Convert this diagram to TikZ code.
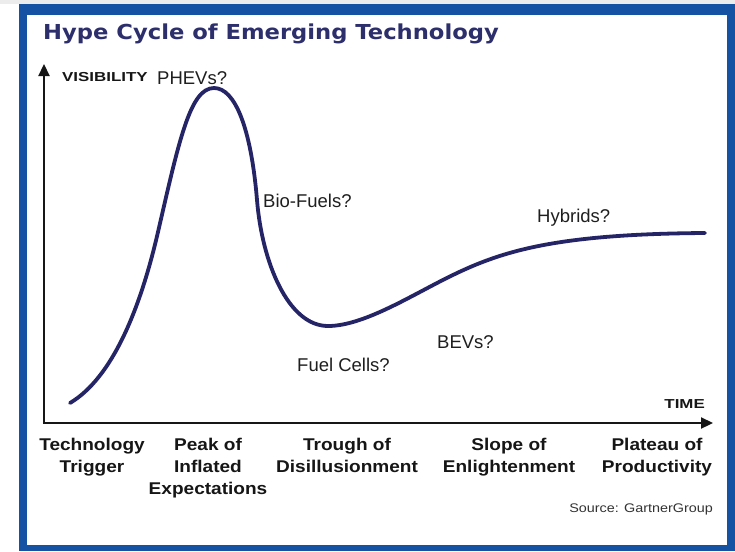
\documentclass[tikz,border=0pt]{standalone}
\usepackage{fontspec}
\setmainfont{Liberation Sans}
\newfontfamily\titlefont{DejaVu Sans}
\usetikzlibrary{arrows.meta}
\definecolor{frameblue}{RGB}{22,82,164}
\definecolor{curvenavy}{RGB}{36,36,102}
\definecolor{titlenavy}{RGB}{45,46,108}
\definecolor{axisblack}{RGB}{22,22,22}
\definecolor{topgray}{RGB}{236,236,236}
\tikzset{
  lbl/.style={inner sep=0pt, anchor=base west, font=\fontsize{18.5}{22}\selectfont, text=black!88},
  phase/.style={inner sep=0pt, anchor=base, font=\fontsize{17}{22}\selectfont\bfseries, text=axisblack},
  axlbl/.style={inner sep=0pt, font=\fontsize{13}{15}\selectfont\bfseries, text=axisblack},
  axisline/.style={draw=axisblack, line width=2.2pt, -{Triangle[width=11pt,length=12pt]}},
  hype/.style={draw=curvenavy, line width=3.8pt, line cap=round, line join=round}
}
\begin{document}
\begin{tikzpicture}[x=1pt,y=-1pt]
\useasboundingbox (0,0) rectangle (735,551);
% background and frame
\fill[white] (0,0) rectangle (735,551);
\fill[topgray] (0,0) rectangle (735,4);
\fill[frameblue] (19,4) rectangle (735,551);
\fill[white] (27,15) rectangle (727,545);
% title
\node[inner sep=0pt, anchor=base west, text=titlenavy] (title) at (43,40)
  {\scalebox{1.1}[1]{\titlefont\fontsize{20.6}{24}\selectfont\bfseries Hype Cycle of Emerging Technology}};
% axes
\coordinate (origin) at (44,423);
\coordinate (ytip) at (44,64);
\coordinate (xtip) at (713,423);
\draw[axisline] ([yshift=1.1pt]origin) -- (ytip);
\draw[axisline] ([xshift=-1.1pt]origin) -- (xtip);
\node[axlbl, anchor=base west] (vis) at (62,81) {\scalebox{1.3}[1]{VISIBILITY}};
\node[axlbl, anchor=base east] (time) at (705,408) {\scalebox{1.3}[1]{TIME}};
% hype curve
\draw[hype] (70,403)
  .. controls (112,378) and (140,310) .. (158,232)
  .. controls (179,141) and (190,88) .. (214,88)
  .. controls (235,88) and (251,128) .. (257,200)
  .. controls (262,262) and (288,326) .. (328,326)
  .. controls (365,326) and (415,293) .. (455,274)
  .. controls (505,250) and (560,234) .. (705,233);
% labels on the curve
\node[lbl] (phevs) at (157,84) {PHEVs?};
\node[lbl] (bio) at (263,207) {Bio-Fuels?};
\node[lbl] (hybrids) at (537,222) {Hybrids?};
\node[lbl] (bevs) at (437,348) {BEVs?};
\node[lbl] (fuel) at (297,371) {Fuel Cells?};
% phases
\node[phase] (trigger) at (92,450) {\scalebox{1.12}[1]{\begin{tabular}[t]{@{}c@{}}Technology\\Trigger\end{tabular}}};
\node[phase] (peak) at (208,450) {\scalebox{1.12}[1]{\begin{tabular}[t]{@{}c@{}}Peak of\\Inflated\\Expectations\end{tabular}}};
\node[phase] (trough) at (347,450) {\scalebox{1.12}[1]{\begin{tabular}[t]{@{}c@{}}Trough of\\Disillusionment\end{tabular}}};
\node[phase] (slope) at (509,450) {\scalebox{1.12}[1]{\begin{tabular}[t]{@{}c@{}}Slope of\\Enlightenment\end{tabular}}};
\node[phase] (plateau) at (657,450) {\scalebox{1.12}[1]{\begin{tabular}[t]{@{}c@{}}Plateau of\\Productivity\end{tabular}}};
% source
\node[inner sep=0pt, anchor=base east, text=black!80, font=\fontsize{12.5}{14}\selectfont] (source) at (713,512)
  {\scalebox{1.15}[1]{Source: GartnerGroup}};
\end{tikzpicture}
\end{document}
